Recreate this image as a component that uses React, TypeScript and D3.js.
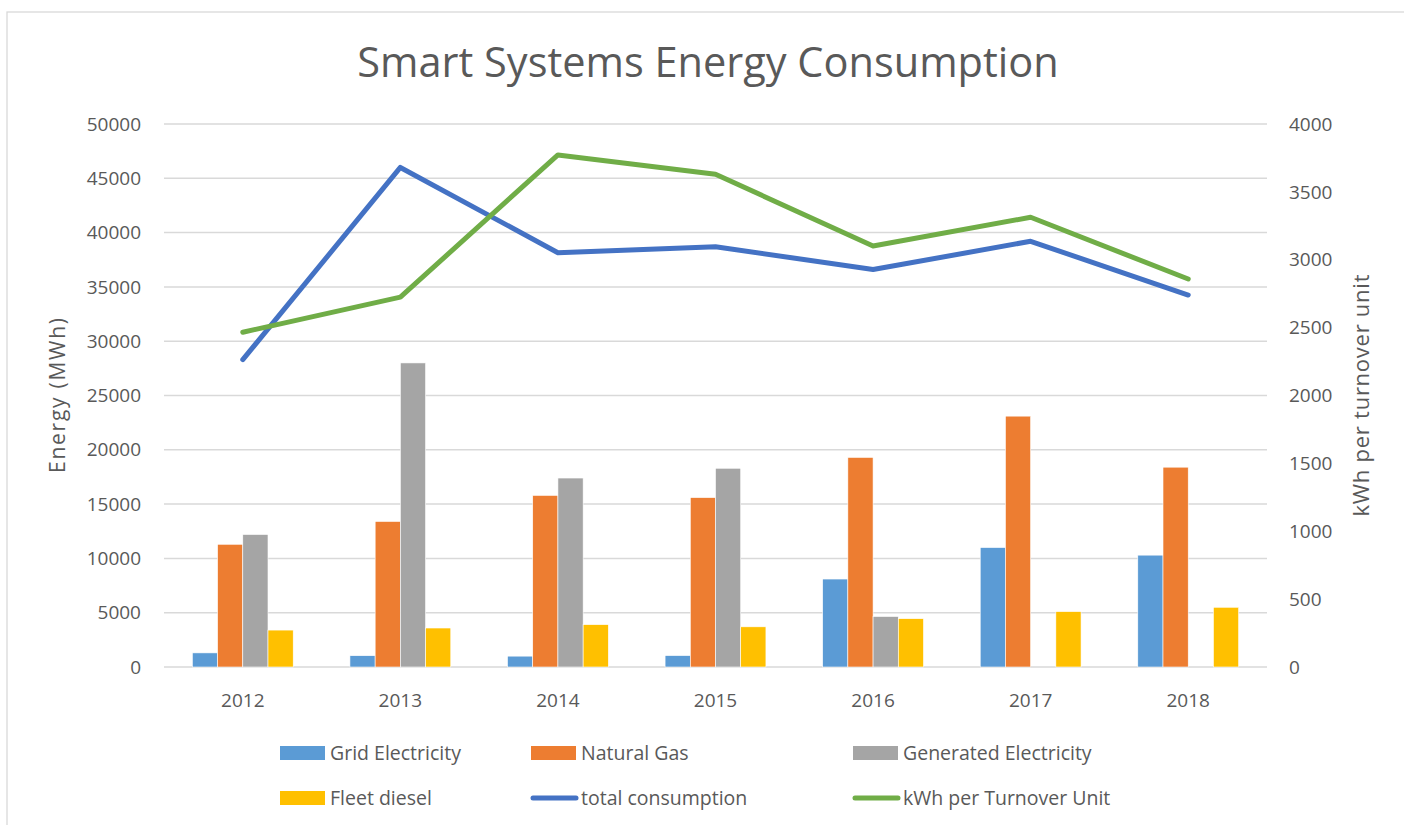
import React from 'react';
import * as d3 from 'd3';

const years = ['2012', '2013', '2014', '2015', '2016', '2017', '2018'];
const gridElectricity = [1300, 1040, 1000, 1050, 8100, 11000, 10300];
const naturalGas = [11300, 13400, 15800, 15600, 19300, 23100, 18400];
const generatedElectricity = [12200, 28000, 17400, 18300, 4650, 0, 0];
const fleetDiesel = [3400, 3590, 3900, 3700, 4450, 5100, 5500];
const totalConsumption = [28300, 46000, 38150, 38700, 36600, 39200, 34250];
const kwhPerTurnover = [2466, 2725, 3772, 3630, 3101, 3313, 2858];

const leftTicks = [0, 5000, 10000, 15000, 20000, 25000, 30000, 35000, 40000, 45000, 50000];
const rightTicks = [0, 500, 1000, 1500, 2000, 2500, 3000, 3500, 4000];

const barSeries = [
  { name: 'Grid Electricity', values: gridElectricity, color: '#5B9BD5' },
  { name: 'Natural Gas', values: naturalGas, color: '#ED7D31' },
  { name: 'Generated Electricity', values: generatedElectricity, color: '#A5A5A5' },
  { name: 'Fleet diesel', values: fleetDiesel, color: '#FFC000' },
];
const lineSeries = [
  { name: 'total consumption', values: totalConsumption, color: '#4472C4', axis: 'left' },
  { name: 'kWh per Turnover Unit', values: kwhPerTurnover, color: '#70AD47', axis: 'right' },
];

const W = 1404;
const H = 825;
const margin = { top: 124, right: 137, bottom: 158, left: 164 };
const FONT = '"Open Sans", sans-serif';
const TEXT = '#595959';
const GRID = '#d9d9d9';

// legend slots (layout only)
const legendSlots = [
  { x: 280, y: 753 }, { x: 531, y: 753 }, { x: 853, y: 753 },
  { x: 280, y: 798 }, { x: 531, y: 798 }, { x: 853, y: 798 },
];

export default function App() {
  const x0 = d3.scaleBand<string>()
    .domain(years)
    .range([margin.left, W - margin.right])
    .paddingInner(0)
    .paddingOuter(0);
  const groupW = x0.bandwidth() * 0.64;
  const x1 = d3.scaleBand<string>()
    .domain(barSeries.map(s => s.name))
    .range([0, groupW]);

  const yL = d3.scaleLinear().domain([0, 50000]).range([H - margin.bottom, margin.top]);
  const yR = d3.scaleLinear().domain([0, 4000]).range([H - margin.bottom, margin.top]);

  const cx = (yr: string) => x0(yr)! + x0.bandwidth() / 2;
  const midY = (yL(0) + yL(50000)) / 2;

  const legendItems = [
    ...barSeries.map(s => ({ name: s.name, color: s.color, kind: 'bar' })),
    ...lineSeries.map(s => ({ name: s.name, color: s.color, kind: 'line' })),
  ];

  return (
    <svg width={W} height={H} style={{ position: 'absolute', left: 0, top: 0, background: '#fff' }}>
      <rect x={7} y={12} width={W + 20} height={H + 20} fill="#fff" stroke={GRID} strokeWidth={1.3} />

      <text x={708} y={77} textAnchor="middle"
        fontFamily={FONT} fontSize={41.5} fill={TEXT}>Smart Systems Energy Consumption</text>

      {leftTicks.map(t => (
        <g key={'g' + t}>
          <line x1={margin.left} x2={W - margin.right} y1={yL(t)} y2={yL(t)} stroke={GRID} strokeWidth={1.5} />
          <text x={141} y={yL(t)} dy="0.35em" textAnchor="end" fontFamily={FONT} fontSize={19} fill={TEXT}>{t}</text>
        </g>
      ))}
      {rightTicks.map(t => (
        <text key={'r' + t} x={1289} y={yR(t)} dy="0.35em" textAnchor="start" fontFamily={FONT} fontSize={19} fill={TEXT}>{t}</text>
      ))}

      <text transform={`translate(65,${midY}) rotate(-90)`} textAnchor="middle"
        fontFamily={FONT} fontSize={21} fill={TEXT} textLength={155} lengthAdjust="spacing">Energy (MWh)</text>
      <text transform={`translate(1369,${midY}) rotate(-90)`} textAnchor="middle"
        fontFamily={FONT} fontSize={22} fill={TEXT} textLength={242} lengthAdjust="spacing">kWh per turnover unit</text>

      {years.map(yr => (
        <text key={'x' + yr} x={cx(yr)} y={707} textAnchor="middle" fontFamily={FONT} fontSize={19} fill={TEXT}>{yr}</text>
      ))}

      {barSeries.map(s => (
        <g key={s.name}>
          {years.map((yr, i) => s.values[i] > 0 && (
            <rect key={yr}
              x={cx(yr) - groupW / 2 + x1(s.name)!}
              y={yL(s.values[i])}
              width={x1.bandwidth()}
              height={yL(0) - yL(s.values[i])}
              fill={s.color} stroke="#fff" strokeWidth={0.6} />
          ))}
        </g>
      ))}

      {lineSeries.map(s => {
        const y = s.axis === 'left' ? yL : yR;
        const line = d3.line<number>()
          .x((_, i) => cx(years[i]))
          .y(v => y(v));
        return (
          <path key={s.name} d={line(s.values)!} fill="none" stroke={s.color} strokeWidth={5}
            strokeLinecap="round" strokeLinejoin="round" />
        );
      })}

      {legendItems.map((it, i) => {
        const p = legendSlots[i];
        return (
          <g key={it.name}>
            {it.kind === 'bar'
              ? <rect x={p.x} y={p.y - 7} width={45} height={14} fill={it.color} />
              : <line x1={p.x + 2} x2={p.x + 45} y1={p.y} y2={p.y} stroke={it.color} strokeWidth={5} strokeLinecap="round" />}
            <text x={p.x + 50} y={p.y} dy="0.35em" fontFamily={FONT} fontSize={19.5} fill={TEXT}>{it.name}</text>
          </g>
        );
      })}
    </svg>
  );
}
